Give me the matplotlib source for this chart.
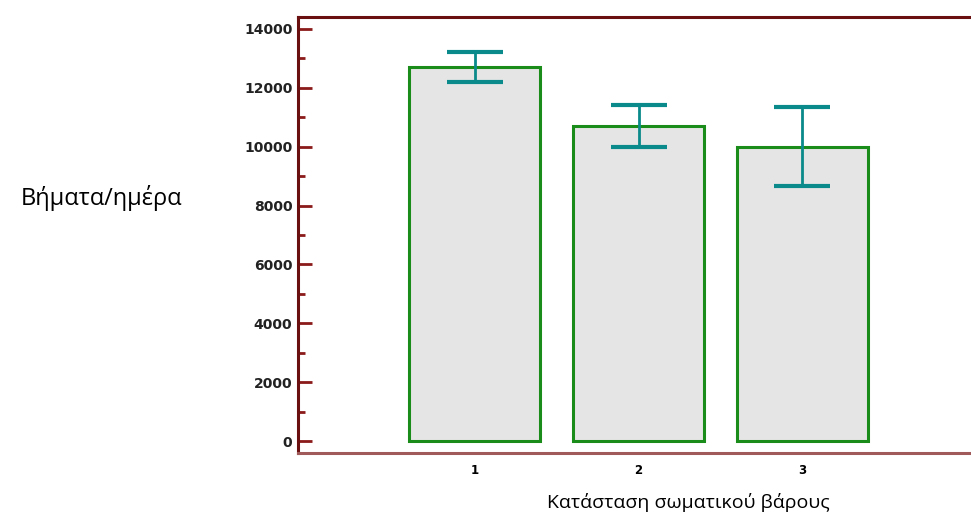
import matplotlib.pyplot as plt
import numpy as np

# weight status groups and mean steps/day with error
groups = ["1", "2", "3"]
steps_mean = [12700, 10700, 10000]
steps_err = [500, 700, 1340]

y_ticks = [0, 2000, 4000, 6000, 8000, 10000, 12000, 14000]

plt.rcParams['font.family'] = ['Open Sans', 'DejaVu Sans']

fig = plt.figure(figsize=(9.71, 5.18), dpi=100)
ax = fig.add_axes([0.3069, 0.1255, 0.6931, 0.8417])

x = np.arange(1, len(groups) + 1)
ax.bar(x, steps_mean, width=0.8, color="#e5e5e5", edgecolor="#1a8c1a", linewidth=2.2, zorder=2)
eb = ax.errorbar(x, steps_mean, yerr=steps_err, fmt="none", ecolor="#0a8a8a",
                 elinewidth=2, capsize=20, capthick=3, zorder=3)
for cl in eb[1]:
    cl.set_color("#5aa9a9")

ax.set_xlim(-0.08, 4.03)
ax.set_ylim(-400, 14400)

ax.set_xticks(x)
ax.set_xticklabels(groups, fontsize=8.5, fontweight="bold", family="DejaVu Sans")
ax.tick_params(axis="x", length=0, pad=8)

ax.set_yticks(y_ticks)
ax.set_yticklabels([str(v) for v in y_ticks], fontsize=10, fontweight="bold", family="DejaVu Sans",
                   color="#222222")
ax.set_yticks(np.arange(1000, 14000, 2000), minor=True)
ax.tick_params(axis="y", which="major", direction="in", length=10, width=2, color="#8b1a1a", pad=4)
ax.tick_params(axis="y", which="minor", direction="in", length=5, width=2, color="#8b1a1a")

ax.spines["right"].set_visible(False)
ax.spines["left"].set_color("#6b1010")
ax.spines["left"].set_linewidth(2.2)
ax.spines["top"].set_color("#6b1010")
ax.spines["top"].set_linewidth(2.2)
ax.spines["bottom"].set_color("#a05a5a")
ax.spines["bottom"].set_linewidth(2.2)

fig.text(101 / 971, 1 - 198 / 518, "Βήματα/ημέρα", fontsize=17, ha="center", va="center")
fig.text(688 / 971, 1 - 502 / 518, "Κατάσταση σωματικού βάρους", fontsize=14, ha="center", va="center")

fig.savefig("out.png", dpi=100)
